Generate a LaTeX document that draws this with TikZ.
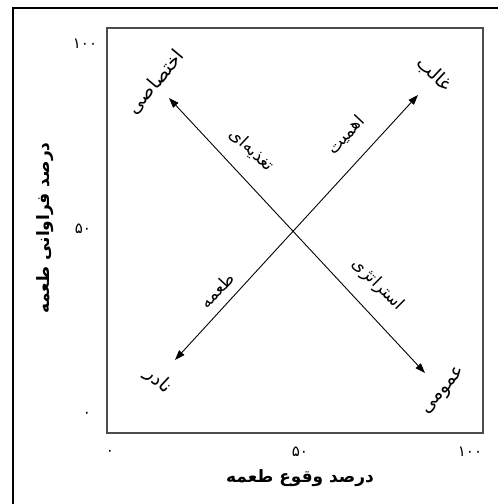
\documentclass[tikz,border=0pt]{standalone}
\usepackage{fontspec}
\usetikzlibrary{arrows.meta}
\TeXXeTstate=1
\newfontfamily\arabicfont[Script=Arabic]{DejaVu Sans}
\newcommand{\fa}[1]{\arabicfont\beginR #1\endR}

\tikzset{
  endlabel/.style={font=\fontsize{19}{21}\selectfont, inner sep=1pt},
  midlabel/.style={font=\fontsize{17}{19}\selectfont, inner sep=1pt},
  ticklabel/.style={font=\arabicfont\fontsize{15}{16}\selectfont, inner sep=0pt},
  axistitle/.style={font=\bfseries\fontsize{17}{19}\selectfont, inner sep=1pt},
}

\begin{document}
\begin{tikzpicture}[x=1pt,y=-1pt,line width=0.9pt,>={Triangle[length=10pt,width=7pt]}]
\useasboundingbox (0,0) rectangle (498,504);
% ---- outer frame (only left and top show) ----
\draw[line width=1.8pt] (13,506) -- (13,8) -- (500,8);
% ---- plot box ----
\draw[black!70, line width=1.2pt] (107,28) rectangle (483,433);
% ---- arrow ends ----
\coordinate (blEnd) at (175,360);
\coordinate (trEnd) at (418,95);
\coordinate (tlEnd) at (169,98);
\coordinate (brEnd) at (425,373);
\draw[<->] (blEnd) -- (trEnd);
\draw[<->] (tlEnd) -- (brEnd);
% ---- end labels ----
\node[endlabel, rotate=50]  (ikhtesasi) at (156,82)  {\fa{اختصاصی}};
\node[endlabel, rotate=-43] (ghaleb)    at (434,74)  {\fa{غالب}};
\node[endlabel, rotate=-43] (nader)     at (158,381) {\fa{نادر}};
\node[endlabel, rotate=50]  (omumi)     at (444,391) {\fa{عمومی}};
% ---- labels along the arrows ----
\node[midlabel, rotate=-43] (taghzie)     at (252,150) {\fa{تغذیه‌ای}};
\node[midlabel, rotate=47]  (ahamiyat)    at (346,135) {\fa{اهمیت}};
\node[midlabel, rotate=47]  (tome)        at (217,290) {\fa{طعمه}};
\node[midlabel, rotate=-45] (esteratezhi) at (378,285) {\fa{استراتژی}};
% ---- ticks ----
\node[ticklabel] (y100) at (85,44)  {۱۰۰};
\node[ticklabel] (y50)  at (83,229) {۵۰};
\node[ticklabel] (y0)   at (87,415) {۰};
\node[ticklabel] (x0)   at (110,453) {۰};
\node[ticklabel] (x50)  at (300,452) {۵۰};
\node[ticklabel] (x100) at (470,452) {۱۰۰};
% ---- axis titles ----
\node[axistitle] (xtitle) at (300,478) {\fa{درصد وقوع طعمه}};
\node[axistitle, rotate=90] (ytitle) at (45,228) {\fa{درصد فراوانی طعمه}};
\end{tikzpicture}
\end{document}
